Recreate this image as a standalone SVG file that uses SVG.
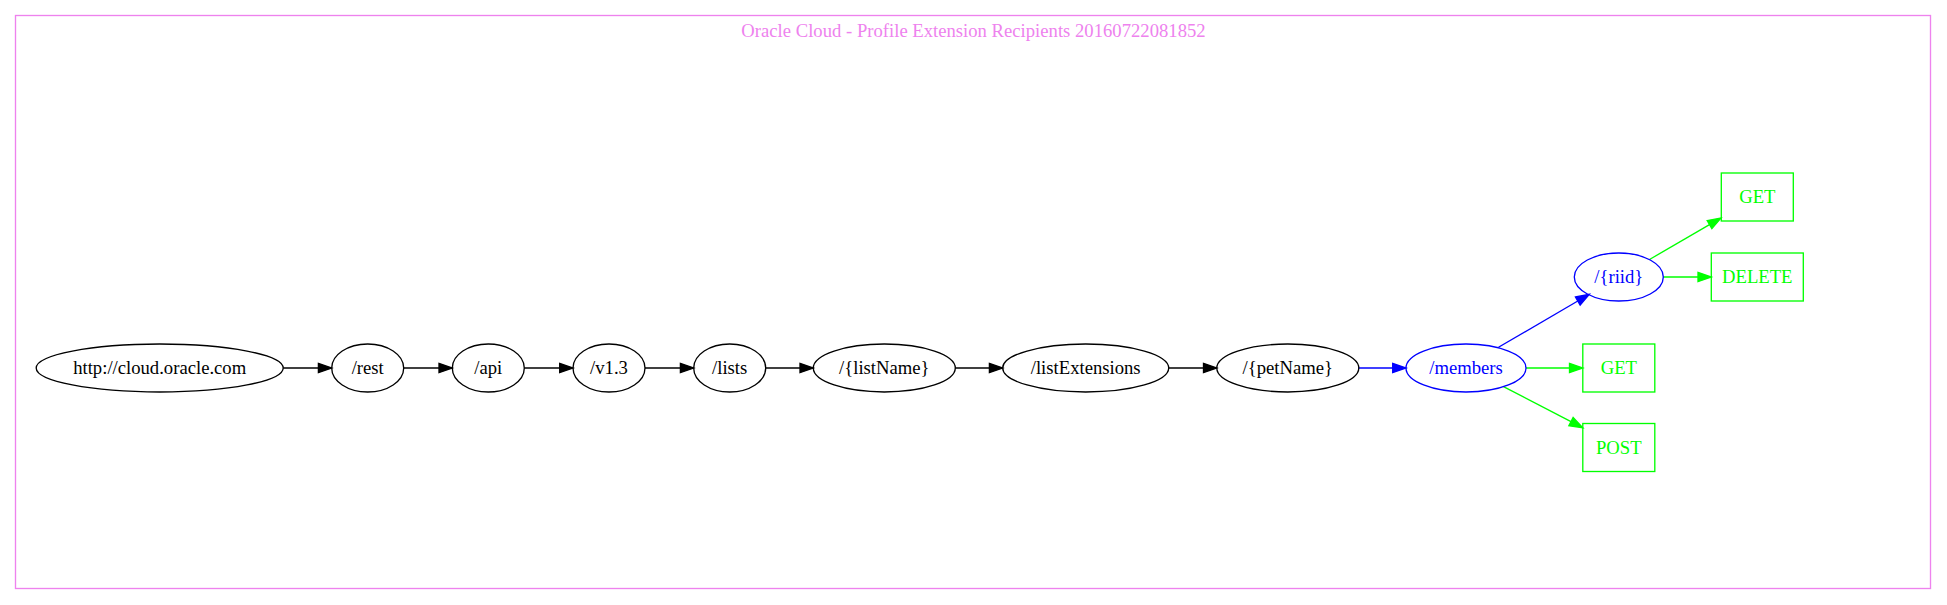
<svg xmlns="http://www.w3.org/2000/svg" width="1947" height="605" viewBox="0 0 1947 605">
<style>
text{font-family:"Liberation Serif","Times New Roman",serif;font-size:18.67px;text-anchor:middle}
.n ellipse{fill:none;stroke:#000;stroke-width:1.33}
.n text{fill:#000}
.b ellipse{stroke:#0000ff}
.b text{fill:#0000ff}
.g rect{fill:none;stroke:#00ff00;stroke-width:1.33}
.g text{fill:#00ff00}
.e{fill:none;stroke-width:1.33}
.ek{stroke:#000;marker-end:url(#ak)}
.eb{stroke:#0000ff;marker-end:url(#ab)}
.eg{stroke:#00ff00;marker-end:url(#ag)}
</style>
<defs>
<marker id="ak" markerUnits="userSpaceOnUse" viewBox="0 0 13.33 9.33" refX="0" refY="4.67" markerWidth="13.33" markerHeight="9.33" orient="auto" overflow="visible"><path d="M0,0 L13.33,4.67 L0,9.33 z" fill="#000" stroke="#000" stroke-width="1.33"/></marker>
<marker id="ab" markerUnits="userSpaceOnUse" viewBox="0 0 13.33 9.33" refX="0" refY="4.67" markerWidth="13.33" markerHeight="9.33" orient="auto" overflow="visible"><path d="M0,0 L13.33,4.67 L0,9.33 z" fill="#0000ff" stroke="#0000ff" stroke-width="1.33"/></marker>
<marker id="ag" markerUnits="userSpaceOnUse" viewBox="0 0 13.33 9.33" refX="0" refY="4.67" markerWidth="13.33" markerHeight="9.33" orient="auto" overflow="visible"><path d="M0,0 L13.33,4.67 L0,9.33 z" fill="#00ff00" stroke="#00ff00" stroke-width="1.33"/></marker>
</defs>
<rect width="1947" height="605" fill="#fff"/>
<g id="cluster">
<rect x="15.5" y="15.5" width="1915" height="573" fill="none" stroke="#ee82ee" stroke-width="1.33"/>
<text x="973.5" y="37" fill="#ee82ee">Oracle Cloud - Profile Extension Recipients 20160722081852</text>
</g>
<g id="connectors">
<path class="e ek" d="M283.2,368 L318.4,368"/>
<path class="e ek" d="M403.7,368 L439,368"/>
<path class="e ek" d="M524.3,368 L559.7,368"/>
<path class="e ek" d="M645,368 L680.4,368"/>
<path class="e ek" d="M765.7,368 L800,368"/>
<path class="e ek" d="M955.3,368 L989.4,368"/>
<path class="e ek" d="M1168.7,368 L1203.5,368"/>
<path class="e eb" d="M1358.8,368 L1392.7,368"/>
<path class="e eb" d="M1498.5,347.3 L1577.8,301"/>
<path class="e eg" d="M1526,368 L1569.5,368"/>
<path class="e eg" d="M1503.5,386.7 L1571,421.6"/>
<path class="e eg" d="M1649.5,259.5 L1709.5,224.6"/>
<path class="e eg" d="M1663.3,277 L1698,277"/>
</g>
<g id="n_root" class="n"><ellipse cx="159.7" cy="368" rx="123.5" ry="24"/><text x="159.7" y="374">http://cloud.oracle.com</text></g>
<g id="n_rest" class="n"><ellipse cx="367.7" cy="368" rx="36" ry="24"/><text x="367.7" y="374">/rest</text></g>
<g id="n_api" class="n"><ellipse cx="488.3" cy="368" rx="36" ry="24"/><text x="488.3" y="374">/api</text></g>
<g id="n_v13" class="n"><ellipse cx="609" cy="368" rx="36" ry="24"/><text x="609" y="374">/v1.3</text></g>
<g id="n_lists" class="n"><ellipse cx="729.7" cy="368" rx="36" ry="24"/><text x="729.7" y="374">/lists</text></g>
<g id="n_listName" class="n"><ellipse cx="884.3" cy="368" rx="71" ry="24"/><text x="884.3" y="374">/{listName}</text></g>
<g id="n_listExtensions" class="n"><ellipse cx="1085.7" cy="368" rx="83" ry="24"/><text x="1085.7" y="374">/listExtensions</text></g>
<g id="n_petName" class="n"><ellipse cx="1287.8" cy="368" rx="71" ry="24"/><text x="1287.8" y="374">/{petName}</text></g>
<g id="n_members" class="n b"><ellipse cx="1466" cy="368" rx="60" ry="24"/><text x="1466" y="374">/members</text></g>
<g id="n_riid" class="n b"><ellipse cx="1618.8" cy="277" rx="44.5" ry="24"/><text x="1618.8" y="283">/{riid}</text></g>
<g id="n_members_get" class="g"><rect x="1582.8" y="344" width="72" height="48"/><text x="1618.8" y="374">GET</text></g>
<g id="n_members_post" class="g"><rect x="1582.8" y="423.5" width="72" height="48"/><text x="1618.8" y="453.5">POST</text></g>
<g id="n_riid_get" class="g"><rect x="1721.3" y="173" width="72" height="48"/><text x="1757.3" y="203">GET</text></g>
<g id="n_riid_delete" class="g"><rect x="1711.3" y="253" width="92" height="48"/><text x="1757.3" y="283">DELETE</text></g>
</svg>
